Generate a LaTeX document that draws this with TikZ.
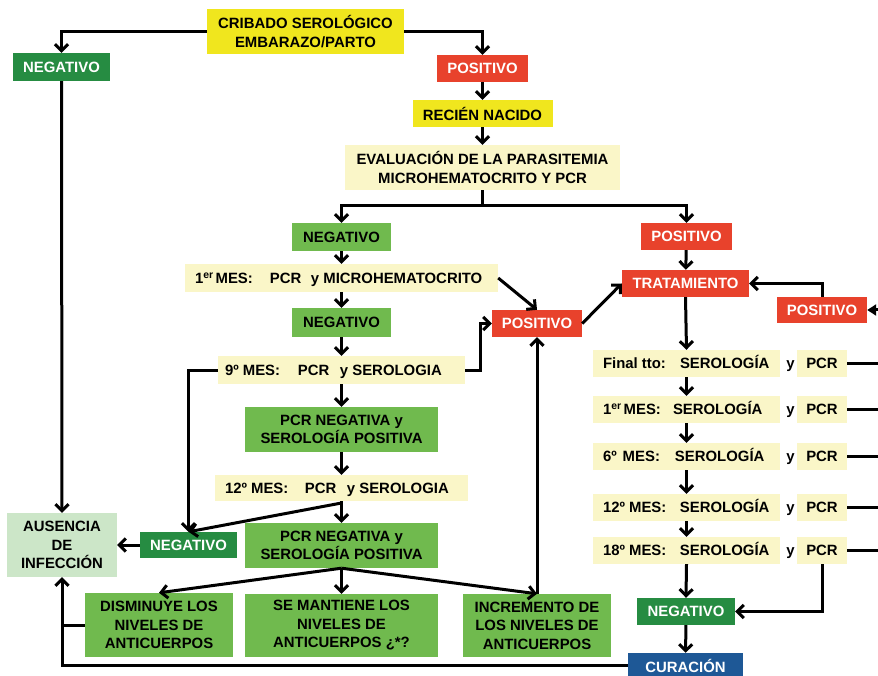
\documentclass[tikz,border=0pt]{standalone}
\usepackage{fontspec}
\setmainfont{Liberation Sans}
\usetikzlibrary{arrows.meta}
\definecolor{cyel}{RGB}{240,230,30}
\definecolor{cpale}{RGB}{250,246,200}
\definecolor{cred}{RGB}{232,66,44}
\definecolor{cdg}{RGB}{38,140,66}
\definecolor{cmg}{RGB}{112,186,78}
\definecolor{cpg}{RGB}{204,230,200}
\definecolor{cblue}{RGB}{30,88,150}
\begin{document}
\begin{tikzpicture}[x=1pt,y=-1pt,
  every node/.style={font=\fontsize{14.9}{18.5}\selectfont\bfseries, inner sep=0pt, align=center},
  yel/.style={fill=cyel, text=black},
  pale/.style={fill=cpale, text=black},
  red/.style={fill=cred, text=white},
  dg/.style={fill=cdg, text=white},
  mg/.style={fill=cmg, text=black},
  pg/.style={fill=cpg, text=black},
  blu/.style={fill=cblue, text=white},
  ytxt/.style={text height=10.7pt, text depth=0pt},
  sz/.style 2 args={minimum width=#1, minimum height=#2},
  conn/.style={line width=3pt, draw=black},
  >={Straight Barb[length=6.5pt,width=13pt]}
]
\fill[white] (0,0) rectangle (878,676);
\useasboundingbox (0,0) rectangle (878,676);
\coordinate (edge) at (878,0);

% left / centre column
\node[yel, sz={197pt}{45pt}] (crib) at (305.5,31.5) {CRIBADO SEROLÓGICO\\EMBARAZO/PARTO};
\node[dg, sz={97pt}{28pt}] (neg0) at (61.5,67) {NEGATIVO};
\node[red, sz={91pt}{27pt}] (pos0) at (482.5,68.5) {POSITIVO};
\node[yel, sz={140pt}{27pt}] (rn) at (482.5,113.5) {RECIÉN NACIDO};
\node[pale, sz={275pt}{45pt}] (eval) at (482.5,167.5) {EVALUACIÓN DE LA PARASITEMIA\\MICROHEMATOCRITO Y PCR};
\node[mg, sz={99pt}{28pt}] (neg1) at (341.5,237) {NEGATIVO};
\node[pale, sz={313pt}{28pt}, ytxt] (m1) at (341.5,278) {\makebox[313pt][l]{\hspace{10pt}\makebox[75pt][l]{1\textsuperscript{er}\hspace{2pt}MES:}PCR\hspace{9.5pt}y MICROHEMATOCRITO}};
\node[mg, sz={99pt}{29pt}] (neg2) at (341.5,322.5) {NEGATIVO};
\node[pale, sz={247pt}{28pt}, ytxt] (m9) at (341.5,370) {\makebox[247pt][l]{\hspace{7pt}\makebox[73pt][l]{9º MES:}PCR\hspace{10.5pt}y SEROLOGIA}};
\node[mg, sz={193pt}{45pt}] (pn1) at (341.5,429.5) {PCR NEGATIVA y\\SEROLOGÍA POSITIVA};
\node[pale, sz={253pt}{26pt}, ytxt] (m12) at (341.5,488) {\makebox[253pt][l]{\hspace{10pt}\makebox[80pt][l]{12º MES:}PCR\hspace{10.5pt}y SEROLOGIA}};
\node[mg, sz={193pt}{45pt}] (pn2) at (341.5,545.5) {PCR NEGATIVA y\\SEROLOGÍA POSITIVA};
\node[dg, sz={97pt}{26pt}] (neg3) at (188.5,545) {NEGATIVO};
\node[pg, sz={110pt}{64pt}] (aus) at (62,545) {AUSENCIA\\DE\\INFECCIÓN};
\node[mg, sz={148pt}{64pt}] (dis) at (159,625) {DISMINUYE LOS\\NIVELES DE\\ANTICUERPOS};
\node[mg, sz={193pt}{63pt}] (sem) at (341.5,625.5) {SE MANTIENE LOS\\NIVELES DE\\ANTICUERPOS ¿*?};
\node[mg, sz={148pt}{63pt}] (inc) at (537,625.5) {INCREMENTO DE\\LOS NIVELES DE\\ANTICUERPOS};
\node[red, sz={90pt}{27pt}] (pos1) at (537,323.5) {POSITIVO};

% right column
\node[red, sz={91pt}{27pt}] (pos2) at (686.5,236.5) {POSITIVO};
\node[red, sz={127pt}{27pt}] (trat) at (685.5,283.5) {TRATAMIENTO};
\node[red, sz={90pt}{26pt}] (pos3) at (822,310) {POSITIVO};

\node[pale, sz={187pt}{27pt}, ytxt] (f0) at (686.5,363.5) {\makebox[187pt][l]{\hspace{10pt}\makebox[77pt][l]{Final tto:}SEROLOGÍA}};
\node[pale, sz={187pt}{27pt}, ytxt] (f1) at (686.5,409.5) {\makebox[187pt][l]{\hspace{10pt}\makebox[70pt][l]{1\textsuperscript{er}\hspace{2pt}MES:}SEROLOGÍA}};
\node[pale, sz={187pt}{27pt}, ytxt] (f2) at (686.5,456.5) {\makebox[187pt][l]{\hspace{10pt}\makebox[72pt][l]{6º\hspace{6pt}MES:}SEROLOGÍA}};
\node[pale, sz={187pt}{27pt}, ytxt] (f3) at (686.5,507.5) {\makebox[187pt][l]{\hspace{10pt}\makebox[77pt][l]{12º MES:}SEROLOGÍA}};
\node[pale, sz={187pt}{27pt}, ytxt] (f4) at (686.5,550.5) {\makebox[187pt][l]{\hspace{10pt}\makebox[77pt][l]{18º MES:}SEROLOGÍA}};
\node[pale, sz={50pt}{27pt}, ytxt] (p0) at (822,363.5) {PCR};
\node[pale, sz={50pt}{27pt}, ytxt] (p1) at (822,409.5) {PCR};
\node[pale, sz={50pt}{27pt}, ytxt] (p2) at (822,456.5) {PCR};
\node[pale, sz={50pt}{27pt}, ytxt] (p3) at (822,507.5) {PCR};
\node[pale, sz={50pt}{27pt}, ytxt] (p4) at (822,550.5) {PCR};
\node[ytxt] (y0) at (790.5,363.5) {y};
\node[ytxt] (y1) at (790.5,409.5) {y};
\node[ytxt] (y2) at (790.5,456.5) {y};
\node[ytxt] (y3) at (790.5,507.5) {y};
\node[ytxt] (y4) at (790.5,550.5) {y};
\node[dg, sz={98pt}{27pt}] (neg4) at (686,611.5) {NEGATIVO};
\node[blu, sz={115pt}{25pt}] (cur) at (685.5,665.5) {CURACIÓN};

% connectors
\coordinate (s1) at (482.5,206);
\coordinate (s2) at (341.5,503);
\draw[conn,->] (crib.west) -| (neg0.north);
\draw[conn,->] (crib.east) -| (pos0.north);
\draw[conn,->] (pos0) -- (rn);
\draw[conn,->] (rn) -- (eval);
\draw[conn] (eval.south) -- (s1);
\draw[conn,->] (s1) -| (neg1.north);
\draw[conn,->] (s1) -| (pos2.north);
\draw[conn,->] (neg1) -- (m1);
\draw[conn,->] (m1) -- (neg2);
\draw[conn,->] (neg2) -- (m9);
\draw[conn,->] (m9) -- (pn1);
\draw[conn,->] (pn1) -- (m12);
\draw[conn,->] (m1.east) -- (pos1.north);
\draw[conn,->] (m9.east) -- ++(15,0) |- (pos1.west);
\draw[conn,->] (m9.west) -| (neg3.north);
\draw[conn] (m12.south) -- (s2);
\draw[conn,->] (s2) -- (pn2.north);
\draw[conn,->] (s2) -- (neg3.north);
\draw[conn,->] (neg3) -- (aus);
\draw[conn,->] (neg0) -- (aus);
\draw[conn,->] (pn2.south) -- (dis.north);
\draw[conn,->] (pn2.south) -- (sem.north);
\draw[conn,->] (pn2.south) -- (inc.north);
\draw[conn,->] (inc.north) -- (pos1.south);
\draw[conn] (dis.west) -- (aus.south |- dis.west);
\draw[conn,->] (cur.west) -| (aus.south);
\draw[conn,->] (pos1.east) -- (trat.west);
\draw[conn,->] (pos2) -- (trat);
\draw[conn,->] (trat.south) -- (f0.north);
\draw[conn,->] (f0) -- (f1);
\draw[conn,->] (f1) -- (f2);
\draw[conn,->] (f2) -- (f3);
\draw[conn,->] (f3) -- (f4);
\draw[conn,->] (f4.south) -- (neg4.north);
\draw[conn,->] (neg4) -- (cur);
\draw[conn,->] (p4.south) |- (neg4.east);
\draw[conn] (p0.east) -- (p0.east -| edge);
\draw[conn] (p1.east) -- (p1.east -| edge);
\draw[conn] (p2.east) -- (p2.east -| edge);
\draw[conn] (p3.east) -- (p3.east -| edge);
\draw[conn] (p4.east) -- (p4.east -| edge);
\draw[conn,-{Triangle[length=9pt,width=11pt]}] (pos3.east -| edge) -- (pos3.east);
\draw[conn,->] (pos3.north) |- (trat.east);
\end{tikzpicture}
\end{document}
